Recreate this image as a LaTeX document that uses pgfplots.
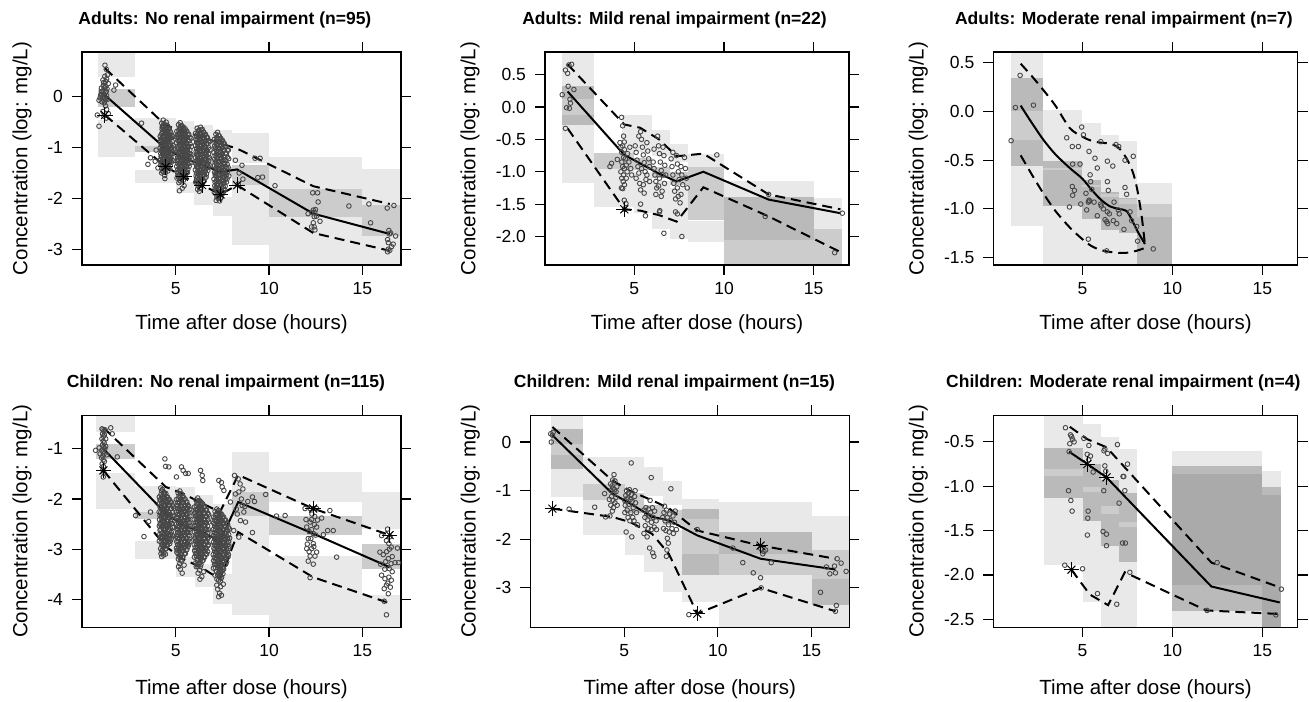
\documentclass[border=0pt]{standalone}
\usepackage{pgfplots}
\pgfplotsset{compat=1.18}
\usepackage{fontspec}
\setmainfont{Liberation Sans}
\newcommand\Lr[4]{\addplot[draw=none, fill=black, fill opacity=0.085, forget plot] coordinates {(#1,#3)(#2,#3)(#2,#4)(#1,#4)};}
\newcommand\Dr[4]{\addplot[draw=none, fill=black, fill opacity=0.2, forget plot] coordinates {(#1,#3)(#2,#3)(#2,#4)(#1,#4)};}
\pgfplotsset{
 vpc/.style={scale only axis, axis on top, tick align=outside, tick pos=both, ticklabel pos=left,
  major tick length=5pt, xtick={5,10,15}, xticklabels={5,10,15}, minor tick num=0,
  axis line style={line width=0.55pt}, every tick/.append style={line width=0.55pt, black},
  tick label style={font=\fontsize{8.75}{10}\selectfont},
  yticklabel style={xshift=-1pt},
  label style={font=\fontsize{10.25}{12}\selectfont},
  every axis title/.style={font=\fontsize{8.75}{10}\selectfont\bfseries, anchor=base, yshift=13.9pt},
  xlabel={Time after dose (hours)}, ylabel={Concentration (log: mg/L)}},
 pts/.style={only marks, mark=o, mark size=1.15pt, black!72, mark options={line width=0.45pt}},
 med/.style={no markers, black, line width=1pt},
 pct/.style={no markers, black, line width=1pt, dash pattern=on 5pt off 3pt},
 astA/.style={only marks, mark=+, mark size=3.9pt, black, mark options={line width=0.5pt}},
 astB/.style={only marks, mark=x, mark size=2.8pt, black, mark options={line width=0.5pt}},
}
\begin{document}
\begin{tikzpicture}
\useasboundingbox (0,0) rectangle (654.5pt,350.5pt);
% ---------------- P1
\begin{axis}[vpc, at={(41pt,218pt)}, anchor=south west, width=159.5pt, height=106.5pt,
 xmin=-0.02, xmax=17.07, ymin=-3.31, ymax=0.88,
 ytick={-3,-2,-1,0}, yticklabels={-3,-2,-1,0},
 title={Adults: No renal impairment (n=95)}, title style={at={(axis description cs:0.448,1)}},
 xlabel style={at={(axis description cs:0.5,0)}, anchor=base, yshift=-32.4pt},
 ylabel style={at={(axis description cs:-0.188,0.5)}, anchor=center}]
\Lr{0.86}{2.80}{0.39}{1.0} \Dr{0.86}{2.80}{-0.21}{0.16} \Lr{0.86}{2.80}{-1.18}{-0.46}
\Lr{2.80}{5.0}{-0.96}{-0.41} \Dr{2.80}{5.0}{-1.08}{-0.96} \Lr{2.80}{5.0}{-1.69}{-1.44}
\Lr{5.0}{6.0}{-0.85}{-0.47} \Dr{5.0}{6.0}{-1.25}{-1.10} \Lr{5.0}{6.0}{-1.90}{-1.67}
\Lr{6.0}{7.0}{-0.95}{-0.55} \Dr{6.0}{7.0}{-1.40}{-1.25} \Lr{6.0}{7.0}{-2.13}{-1.84}
\Lr{7.0}{8.0}{-1.05}{-0.65} \Dr{7.0}{8.0}{-1.55}{-1.38} \Lr{7.0}{8.0}{-2.34}{-1.97}
\Lr{8.0}{10.0}{-1.31}{-0.71} \Dr{8.0}{10.0}{-1.74}{-1.34} \Lr{8.0}{10.0}{-2.92}{-1.74}
\Lr{10.0}{15.0}{-1.82}{-1.19} \Dr{10.0}{15.0}{-2.36}{-1.82} \Lr{10.0}{15.0}{-3.5}{-2.36}
\Lr{15.0}{17.1}{-2.13}{-1.42} \Dr{15.0}{17.1}{-2.74}{-2.13} \Lr{15.0}{17.1}{-3.5}{-2.74}
\addplot[pts] coordinates {
(1.21,0.62)(1.28,0.54)(1.34,0.43)(1.10,0.33)(1.25,0.30)(1.39,0.26)(1.78,0.23)(1.69,0.13)(0.98,0.03)(1.07,0.00)(1.16,-0.07)(0.89,-0.07)(1.03,0.10)(1.28,0.10)(1.25,0.20)(0.80,-0.36)(0.89,-0.58)(1.10,-0.29)(1.39,-0.33)(1.15,0.05)(1.20,-0.02)(1.22,0.08)(1.18,0.18)(1.12,0.22)(1.30,0.02)(1.05,-0.10)(1.10,0.12)(1.25,-0.05)(1.30,0.35)(1.20,0.40)(1.14,0.28)(1.32,0.16)(1.02,0.17)(0.95,-0.02)(1.18,-0.12)(1.24,-0.18)(1.30,-0.25)(1.05,0.05)(1.35,-0.05)(1.15,-0.38)(1.28,-0.42)
(3.17,-0.52)(3.51,-1.33)(3.65,-1.20)(3.90,-1.27)(4.05,-1.40)(4.42,-1.61)(4.28,-0.60)(3.95,-1.05)
(4.17,-0.78)(4.19,-0.88)(4.16,-1.01)(4.20,-1.12)(4.18,-1.24)(4.21,-1.33)
(4.25,-0.52)(4.27,-0.64)(4.24,-0.73)(4.28,-0.86)(4.25,-0.95)(4.27,-1.08)(4.24,-1.17)(4.28,-1.30)(4.26,-1.41)(4.25,-1.50)
(4.33,-0.46)(4.35,-0.59)(4.32,-0.70)(4.36,-0.79)(4.33,-0.92)(4.35,-1.01)(4.32,-1.14)(4.36,-1.23)(4.34,-1.36)(4.33,-1.47)
(4.41,-0.56)(4.43,-0.65)(4.40,-0.78)(4.44,-0.87)(4.41,-1.00)(4.43,-1.09)(4.40,-1.22)(4.44,-1.31)(4.42,-1.44)(4.41,-1.55)
(4.49,-0.50)(4.51,-0.63)(4.48,-0.72)(4.52,-0.85)(4.49,-0.94)(4.51,-1.07)(4.48,-1.16)(4.52,-1.29)(4.50,-1.38)
(4.57,-0.58)(4.59,-0.67)(4.56,-0.80)(4.60,-0.89)(4.57,-1.02)(4.59,-1.11)(4.56,-1.24)(4.60,-1.33)(4.58,-1.46)
(4.65,-0.62)(4.67,-0.75)(4.64,-0.84)(4.68,-0.97)(4.65,-1.06)(4.67,-1.19)(4.64,-1.28)(4.68,-1.41)
(4.74,-0.71)(4.76,-0.81)(4.73,-0.95)(4.77,-1.05)(4.74,-1.19)(4.76,-1.29)
(4.84,-0.79)(4.86,-0.96)(4.83,-1.09)(4.87,-1.26)
(5.06,-0.68)(5.08,-0.80)(5.05,-0.91)(5.09,-1.03)(5.06,-1.14)(5.08,-1.26)(5.05,-1.37)(5.09,-1.49)(5.07,-1.60)
(5.15,-0.55)(5.17,-0.66)(5.14,-0.78)(5.18,-0.89)(5.15,-1.01)(5.17,-1.12)(5.14,-1.24)(5.18,-1.35)(5.16,-1.47)(5.15,-1.58)(5.17,-1.69)
(5.24,-0.51)(5.26,-0.62)(5.23,-0.74)(5.27,-0.85)(5.24,-0.97)(5.26,-1.08)(5.23,-1.20)(5.27,-1.31)(5.25,-1.43)(5.24,-1.54)(5.26,-1.66)
(5.33,-0.57)(5.35,-0.69)(5.32,-0.80)(5.36,-0.92)(5.33,-1.03)(5.35,-1.15)(5.32,-1.26)(5.36,-1.38)(5.34,-1.49)(5.33,-1.61)(5.35,-1.80)
(5.42,-0.60)(5.44,-0.72)(5.41,-0.83)(5.45,-0.95)(5.42,-1.06)(5.44,-1.18)(5.41,-1.29)(5.45,-1.41)(5.43,-1.52)(5.42,-1.64)
(5.51,-0.63)(5.53,-0.75)(5.50,-0.86)(5.54,-0.98)(5.51,-1.09)(5.53,-1.21)(5.50,-1.32)(5.54,-1.44)(5.52,-1.55)
(5.60,-0.68)(5.62,-0.80)(5.59,-0.91)(5.63,-1.03)(5.60,-1.14)(5.62,-1.26)(5.59,-1.37)(5.63,-1.49)
(5.70,-0.74)(5.72,-0.87)(5.69,-0.99)(5.73,-1.12)(5.70,-1.24)(5.72,-1.37)
(5.82,-0.82)(5.84,-0.98)(5.81,-1.13)(5.85,-1.29)(5.20,-1.85)(5.45,-1.75)
(6.06,-0.72)(6.08,-0.84)(6.05,-0.96)(6.09,-1.08)(6.06,-1.20)(6.08,-1.32)(6.05,-1.44)(6.09,-1.56)(6.07,-1.68)
(6.15,-0.62)(6.17,-0.74)(6.14,-0.86)(6.18,-0.98)(6.15,-1.10)(6.17,-1.22)(6.14,-1.34)(6.18,-1.46)(6.16,-1.58)(6.15,-1.70)(6.17,-1.82)
(6.24,-0.66)(6.26,-0.78)(6.23,-0.90)(6.27,-1.02)(6.24,-1.14)(6.26,-1.26)(6.23,-1.38)(6.27,-1.50)(6.25,-1.62)(6.24,-1.74)(6.26,-1.86)
(6.33,-0.60)(6.35,-0.72)(6.32,-0.84)(6.36,-0.96)(6.33,-1.08)(6.35,-1.20)(6.32,-1.32)(6.36,-1.44)(6.34,-1.56)(6.33,-1.68)(6.35,-1.80)
(6.42,-0.64)(6.44,-0.76)(6.41,-0.88)(6.45,-1.00)(6.42,-1.12)(6.44,-1.24)(6.41,-1.36)(6.45,-1.48)(6.43,-1.60)(6.42,-1.72)
(6.51,-0.70)(6.53,-0.82)(6.50,-0.94)(6.54,-1.06)(6.51,-1.18)(6.53,-1.30)(6.50,-1.42)(6.54,-1.54)(6.52,-1.66)
(6.60,-0.74)(6.62,-0.86)(6.59,-0.98)(6.63,-1.10)(6.60,-1.22)(6.62,-1.34)(6.59,-1.46)(6.63,-1.58)
(6.70,-0.80)(6.72,-0.93)(6.69,-1.06)(6.73,-1.19)(6.70,-1.32)(6.72,-1.45)
(6.82,-0.88)(6.84,-1.04)(6.81,-1.20)(6.85,-1.36)
(7.06,-0.84)(7.08,-0.97)(7.05,-1.10)(7.09,-1.23)(7.06,-1.36)(7.08,-1.49)(7.05,-1.62)(7.09,-1.75)(7.07,-1.88)
(7.15,-0.74)(7.17,-0.87)(7.14,-1.00)(7.18,-1.13)(7.15,-1.26)(7.17,-1.39)(7.14,-1.52)(7.18,-1.65)(7.16,-1.78)(7.15,-1.91)(7.17,-2.04)
(7.24,-0.70)(7.26,-0.83)(7.23,-0.96)(7.27,-1.09)(7.24,-1.22)(7.26,-1.35)(7.23,-1.48)(7.27,-1.61)(7.25,-1.74)(7.24,-1.87)(7.26,-2.00)
(7.33,-0.77)(7.35,-0.90)(7.32,-1.03)(7.36,-1.16)(7.33,-1.29)(7.35,-1.42)(7.32,-1.55)(7.36,-1.68)(7.34,-1.81)(7.33,-1.94)(7.35,-2.05)
(7.42,-0.82)(7.44,-0.95)(7.41,-1.08)(7.45,-1.21)(7.42,-1.34)(7.44,-1.47)(7.41,-1.60)(7.45,-1.73)(7.43,-1.86)(7.42,-1.99)
(7.51,-0.86)(7.53,-0.99)(7.50,-1.12)(7.54,-1.25)(7.51,-1.38)(7.53,-1.51)(7.50,-1.64)(7.54,-1.77)(7.52,-1.90)
(7.60,-0.92)(7.62,-1.05)(7.59,-1.18)(7.63,-1.31)(7.60,-1.44)(7.62,-1.57)(7.59,-1.70)(7.63,-1.83)
(7.70,-0.98)(7.72,-1.12)(7.69,-1.26)(7.73,-1.40)(7.70,-1.54)(7.72,-1.68)
(7.82,-1.05)(7.84,-1.22)(7.81,-1.39)(7.85,-1.56)
(8.20,-1.25)(8.55,-1.35)(8.40,-1.50)(8.60,-1.62)(8.35,-1.72)(9.25,-1.21)(9.52,-1.21)(9.40,-1.59)(9.65,-1.58)(10.32,-1.75)
(12.34,-1.89)(12.60,-1.89)(12.63,-2.07)(12.09,-2.30)(12.37,-2.23)(12.49,-2.22)(12.54,-2.35)(12.42,-2.36)(12.73,-2.45)(12.37,-2.48)(12.42,-2.56)(12.28,-2.56)(12.46,-2.62)(14.28,-2.15)(12.30,-2.28)(12.45,-2.28)
(15.35,-2.11)(15.44,-2.48)(16.33,-2.19)(16.69,-2.14)(16.42,-2.63)(16.51,-2.68)(16.78,-2.74)(16.35,-2.81)(16.39,-2.87)(16.65,-2.90)(16.56,-2.95)(16.39,-3.00)(16.35,-3.05)(16.47,-3.02)(16.45,-2.70)};
\addplot[pts] coordinates {
(4.21,-0.83)(4.22,-0.95)(4.21,-1.06)(4.22,-1.18)(4.21,-1.29)
(4.29,-0.58)(4.30,-0.69)(4.29,-0.80)(4.30,-0.91)(4.29,-1.02)(4.30,-1.13)(4.29,-1.24)(4.30,-1.35)(4.29,-1.46)
(4.37,-0.53)(4.38,-0.64)(4.37,-0.75)(4.38,-0.86)(4.37,-0.97)(4.38,-1.08)(4.37,-1.19)(4.38,-1.30)(4.37,-1.41)
(4.45,-0.61)(4.46,-0.72)(4.45,-0.83)(4.46,-0.94)(4.45,-1.05)(4.46,-1.16)(4.45,-1.27)(4.46,-1.38)(4.45,-1.49)
(4.53,-0.56)(4.54,-0.67)(4.53,-0.78)(4.54,-0.89)(4.53,-1.00)(4.54,-1.11)(4.53,-1.22)(4.54,-1.33)
(4.61,-0.63)(4.62,-0.74)(4.61,-0.85)(4.62,-0.96)(4.61,-1.07)(4.62,-1.18)(4.61,-1.29)(4.62,-1.40)
(4.70,-0.68)(4.71,-0.80)(4.70,-0.91)(4.71,-1.02)(4.70,-1.13)(4.71,-1.24)(4.70,-1.35)
(4.80,-0.76)(4.81,-0.88)(4.80,-1.00)(4.81,-1.12)(4.80,-1.24)
(5.11,-0.74)(5.12,-0.86)(5.11,-0.97)(5.12,-1.09)(5.11,-1.20)(5.12,-1.32)(5.11,-1.43)(5.12,-1.55)
(5.20,-0.61)(5.21,-0.72)(5.20,-0.84)(5.21,-0.95)(5.20,-1.07)(5.21,-1.18)(5.20,-1.30)(5.21,-1.41)(5.20,-1.53)(5.21,-1.64)
(5.29,-0.57)(5.30,-0.68)(5.29,-0.80)(5.30,-0.91)(5.29,-1.03)(5.30,-1.14)(5.29,-1.26)(5.30,-1.37)(5.29,-1.49)(5.30,-1.60)
(5.38,-0.63)(5.39,-0.75)(5.38,-0.86)(5.39,-0.98)(5.38,-1.09)(5.39,-1.21)(5.38,-1.32)(5.39,-1.44)(5.38,-1.55)
(5.47,-0.66)(5.48,-0.78)(5.47,-0.89)(5.48,-1.01)(5.47,-1.12)(5.48,-1.24)(5.47,-1.35)(5.48,-1.47)(5.47,-1.58)
(5.56,-0.69)(5.57,-0.81)(5.56,-0.92)(5.57,-1.04)(5.56,-1.15)(5.57,-1.27)(5.56,-1.38)(5.57,-1.50)
(5.65,-0.74)(5.66,-0.86)(5.65,-0.97)(5.66,-1.09)(5.65,-1.20)(5.66,-1.32)(5.65,-1.43)
(5.76,-0.80)(5.77,-0.93)(5.76,-1.05)(5.77,-1.18)(5.76,-1.30)
(6.11,-0.78)(6.12,-0.90)(6.11,-1.02)(6.12,-1.14)(6.11,-1.26)(6.12,-1.38)(6.11,-1.50)(6.12,-1.62)
(6.20,-0.68)(6.21,-0.80)(6.20,-0.92)(6.21,-1.04)(6.20,-1.16)(6.21,-1.28)(6.20,-1.40)(6.21,-1.52)(6.20,-1.64)(6.21,-1.76)
(6.29,-0.72)(6.30,-0.84)(6.29,-0.96)(6.30,-1.08)(6.29,-1.20)(6.30,-1.32)(6.29,-1.44)(6.30,-1.56)(6.29,-1.68)(6.30,-1.80)
(6.38,-0.66)(6.39,-0.78)(6.38,-0.90)(6.39,-1.02)(6.38,-1.14)(6.39,-1.26)(6.38,-1.38)(6.39,-1.50)(6.38,-1.62)(6.39,-1.74)
(6.47,-0.70)(6.48,-0.82)(6.47,-0.94)(6.48,-1.06)(6.47,-1.18)(6.48,-1.30)(6.47,-1.42)(6.48,-1.54)(6.47,-1.66)
(6.56,-0.76)(6.57,-0.88)(6.56,-1.00)(6.57,-1.12)(6.56,-1.24)(6.57,-1.36)(6.56,-1.48)(6.57,-1.60)
(6.65,-0.80)(6.66,-0.92)(6.65,-1.04)(6.66,-1.16)(6.65,-1.28)(6.66,-1.40)(6.65,-1.52)
(6.76,-0.87)(6.77,-1.00)(6.76,-1.13)(6.77,-1.26)(6.76,-1.39)
(7.11,-0.90)(7.12,-1.03)(7.11,-1.16)(7.12,-1.29)(7.11,-1.42)(7.12,-1.55)(7.11,-1.68)(7.12,-1.81)
(7.20,-0.80)(7.21,-0.93)(7.20,-1.06)(7.21,-1.19)(7.20,-1.32)(7.21,-1.45)(7.20,-1.58)(7.21,-1.71)(7.20,-1.84)(7.21,-1.97)
(7.29,-0.76)(7.30,-0.89)(7.29,-1.02)(7.30,-1.15)(7.29,-1.28)(7.30,-1.41)(7.29,-1.54)(7.30,-1.67)(7.29,-1.80)(7.30,-1.93)
(7.38,-0.83)(7.39,-0.96)(7.38,-1.09)(7.39,-1.22)(7.38,-1.35)(7.39,-1.48)(7.38,-1.61)(7.39,-1.74)(7.38,-1.87)(7.39,-2.00)
(7.47,-0.88)(7.48,-1.01)(7.47,-1.14)(7.48,-1.27)(7.47,-1.40)(7.48,-1.53)(7.47,-1.66)(7.48,-1.79)(7.47,-1.92)
(7.56,-0.92)(7.57,-1.05)(7.56,-1.18)(7.57,-1.31)(7.56,-1.44)(7.57,-1.57)(7.56,-1.70)(7.57,-1.83)
(7.65,-0.98)(7.66,-1.11)(7.65,-1.24)(7.66,-1.37)(7.65,-1.50)(7.66,-1.63)(7.65,-1.76)
(7.76,-1.05)(7.77,-1.19)(7.76,-1.33)(7.77,-1.47)(7.76,-1.61)};
\addplot[med] coordinates {(1.21,0.03)(4.46,-1.02)(5.44,-1.21)(6.42,-1.34)(7.40,-1.48)(8.29,-1.43)(12.37,-2.30)(16.47,-2.70)};
\addplot[pct] coordinates {(1.21,0.56)(4.46,-0.56)(5.44,-0.69)(6.42,-0.79)(7.40,-0.92)(8.29,-1.02)(12.37,-1.76)(16.47,-2.11)};
\addplot[pct] coordinates {(1.21,-0.36)(4.46,-1.38)(5.44,-1.575)(6.42,-1.74)(7.40,-1.92)(8.29,-1.74)(12.37,-2.68)(16.47,-3.03)};
\addplot[astA] coordinates {(1.21,-0.36)(4.46,-1.38)(5.44,-1.575)(6.42,-1.74)(7.40,-1.92)(8.29,-1.74)};
\addplot[astB] coordinates {(1.21,-0.36)(4.46,-1.38)(5.44,-1.575)(6.42,-1.74)(7.40,-1.92)(8.29,-1.74)};
\end{axis}
% ---------------- P2
\begin{axis}[vpc, at={(272.5pt,218pt)}, anchor=south west, width=152pt, height=106.5pt,
 xmin=0.02, xmax=16.97, ymin=-2.44, ymax=0.85,
 ytick={-2,-1.5,-1,-0.5,0,0.5}, yticklabels={-2.0,-1.5,-1.0,-0.5,0.0,0.5},
 title={Adults: Mild renal impairment (n=22)}, title style={at={(axis description cs:0.426,1)}},
 xlabel style={at={(axis description cs:0.5,0)}, anchor=base, yshift=-32.4pt},
 ylabel style={at={(axis description cs:-0.2467,0.5)}, anchor=center}]
\Lr{0.98}{2.77}{0.13}{1.0} \Dr{0.98}{2.77}{-0.27}{0.32} \Lr{0.98}{2.77}{-1.18}{-0.12}
\Lr{4.29}{5.0}{-0.71}{-0.12} \Dr{2.77}{5.0}{-0.95}{-0.71} \Lr{2.77}{5.0}{-1.55}{-0.95}
\Lr{5.0}{6.0}{-0.70}{-0.12} \Dr{5.0}{6.0}{-0.98}{-0.78} \Lr{5.0}{6.0}{-1.64}{-1.0}
\Lr{6.0}{7.0}{-0.75}{-0.36} \Dr{6.0}{7.0}{-1.10}{-0.92} \Lr{6.0}{7.0}{-1.89}{-1.15}
\Lr{7.0}{8.0}{-0.85}{-0.57} \Dr{7.0}{8.0}{-1.20}{-1.0} \Lr{7.0}{8.0}{-2.04}{-1.25}
\Lr{8.0}{10.0}{-0.92}{-0.72} \Dr{8.0}{10.0}{-1.75}{-0.92} \Lr{8.0}{10.0}{-2.08}{-1.76}
\Lr{10.0}{15.0}{-2.06}{-1.15} \Dr{10.0}{15.0}{-2.5}{-1.39}
\Lr{15.0}{16.6}{-1.88}{-1.40} \Dr{15.0}{16.6}{-2.5}{-1.88}
\addplot[pts] coordinates {
(0.98,0.19)(1.16,0.57)(1.28,0.52)(1.35,0.65)(1.50,0.66)(1.31,0.32)(1.63,0.27)(1.41,0.12)(1.22,-0.01)(1.44,0.06)(1.16,-0.33)(1.38,-0.02)
(3.64,-0.92)(3.73,-0.87)(4.05,-0.81)(4.29,-0.16)(4.35,-0.29)(4.44,-0.54)(4.35,-1.26)(4.44,-1.44)(4.53,-1.49)(4.48,-1.58)
(4.20,-0.55)(4.25,-0.62)(4.30,-0.70)(4.35,-0.60)(4.40,-0.45)(4.45,-0.66)(4.40,-0.78)(4.30,-0.85)(4.35,-0.92)(4.25,-1.00)(4.40,-1.05)(4.45,-0.95)(4.30,-1.10)(4.38,-1.15)(4.50,-0.80)(4.55,-0.90)(4.60,-1.00)(4.55,-1.10)(4.62,-0.72)(4.70,-0.85)(4.45,-1.20)(4.28,-1.25)(4.75,-0.62)(4.80,-0.95)(4.85,-1.05)
(5.05,-0.60)(5.10,-0.70)(5.15,-0.82)(5.20,-0.92)(5.25,-1.02)(5.10,-1.10)(5.30,-1.18)(5.35,-0.38)(5.40,-0.50)(5.45,-0.62)(5.50,-0.74)(5.55,-0.86)(5.40,-0.95)(5.60,-1.00)(5.65,-1.12)(5.50,-1.20)(5.70,-0.55)(5.75,-0.68)(5.80,-0.80)(5.85,-0.92)(5.70,-1.05)(5.35,-1.28)(5.55,-1.33)(5.25,-0.45)(5.85,-1.15)(5.35,-1.50)(5.62,-1.68)
(6.05,-0.85)(6.10,-0.95)(6.15,-1.05)(6.20,-1.15)(6.25,-1.25)(6.10,-0.65)(6.30,-0.45)(6.35,-0.60)(6.40,-0.72)(6.45,-0.85)(6.50,-0.98)(6.40,-1.10)(6.35,-1.22)(6.55,-1.30)(6.60,-0.62)(6.65,-0.75)(6.70,-0.90)(6.60,-1.05)(6.68,-1.18)(6.50,-1.38)(6.42,-1.60)(6.40,-1.62)(6.65,-1.95)(6.20,-1.35)(6.75,-1.05)
(7.05,-0.80)(7.10,-0.92)(7.15,-1.05)(7.20,-1.18)(7.25,-1.30)(7.30,-1.42)(7.15,-0.70)(7.35,-0.75)(7.40,-0.88)(7.45,-1.00)(7.50,-1.12)(7.40,-1.25)(7.45,-1.38)(7.55,-1.48)(7.60,-0.92)(7.65,-1.05)(7.70,-1.20)(7.80,-0.78)(7.85,-0.95)(7.90,-1.10)(7.30,-1.62)(7.40,-1.65)(7.65,-2.00)(7.95,-1.25)(7.60,-1.35)
(9.60,-0.74)(12.49,-1.35)(12.30,-1.69)(16.60,-1.64)(16.17,-2.25)};
\addplot[med] coordinates {(1.28,0.24)(4.44,-0.74)(5.32,-0.87)(6.38,-1.03)(7.36,-1.15)(8.85,-1.0)(12.49,-1.43)(16.49,-1.64)};
\addplot[pct] coordinates {(1.28,0.66)(4.44,-0.27)(5.32,-0.32)(6.38,-0.50)(7.36,-0.76)(8.85,-0.72)(12.49,-1.35)(16.49,-1.58)};
\addplot[pct] coordinates {(1.28,-0.33)(4.44,-1.58)(5.32,-1.60)(6.38,-1.67)(7.36,-1.77)(8.85,-1.24)(12.49,-1.69)(16.49,-2.24)};
\addplot[astA] coordinates {(4.44,-1.58)};
\addplot[astB] coordinates {(4.44,-1.58)};
\end{axis}
% ---------------- P3
\begin{axis}[vpc, at={(496.65pt,218pt)}, anchor=south west, width=152.2pt, height=106.5pt,
 xmin=0.05, xmax=16.97, ymin=-1.575, ymax=0.61,
 ytick={-1.5,-1,-0.5,0,0.5}, yticklabels={-1.5,-1.0,-0.5,0.0,0.5},
 title={Adults: Moderate renal impairment (n=7)}, title style={at={(axis description cs:0.429,1)}},
 xlabel style={at={(axis description cs:0.5,0)}, anchor=base, yshift=-32.4pt},
 ylabel style={at={(axis description cs:-0.2464,0.5)}, anchor=center}]
\Lr{1.04}{2.83}{0.0}{0.8} \Dr{1.04}{2.83}{-0.56}{0.34} \Lr{1.04}{2.83}{-1.18}{-0.29}
\Lr{2.83}{5.0}{-0.58}{0.02} \Dr{2.83}{5.0}{-0.97}{-0.51} \Lr{2.83}{5.0}{-1.6}{-0.60}
\Lr{5.0}{6.02}{-0.75}{-0.12} \Dr{5.0}{6.02}{-1.10}{-0.70} \Lr{5.0}{6.02}{-1.6}{-0.78}
\Lr{6.02}{7.02}{-0.85}{-0.24} \Dr{6.02}{7.02}{-1.22}{-0.83} \Lr{6.02}{7.02}{-1.6}{-0.88}
\Lr{7.02}{8.02}{-0.90}{-0.30} \Dr{7.02}{8.02}{-1.25}{-0.89} \Lr{7.02}{8.02}{-1.6}{-0.95}
\Lr{8.02}{10.0}{-0.95}{-0.73} \Dr{8.02}{10.0}{-1.6}{-0.95} \Lr{8.02}{10.0}{-1.6}{-1.08}
\addplot[pts] coordinates {
(1.04,-0.30)(1.28,0.04)(1.54,0.37)(2.28,0.065)
(4.13,-0.27)(4.44,-0.36)(4.78,-0.36)(4.46,-0.54)(4.87,-0.54)(4.96,-0.16)(5.06,-0.24)(5.37,-0.41)(5.70,-0.48)(5.83,-0.58)(6.02,-0.31)(6.39,-0.51)(6.69,-0.56)(6.87,-0.34)(7.02,-0.36)(7.37,-0.50)(7.83,-0.46)
(4.44,-0.77)(4.56,-0.81)(4.46,-0.86)(4.28,-0.98)(4.91,-0.95)(5.20,-0.84)(5.43,-0.65)(5.46,-0.72)(5.52,-0.80)(5.37,-0.91)(5.33,-0.93)(5.24,-1.01)(5.65,-0.93)(5.83,-1.07)(6.02,-0.95)(6.17,-1.00)(6.26,-1.11)(6.39,-0.72)(6.44,-0.81)(6.39,-1.03)(6.50,-1.05)(6.76,-0.93)(7.00,-1.01)(6.91,-1.15)(7.05,-1.05)(7.37,-0.78)(7.46,-0.85)(7.31,-1.21)(7.65,-1.03)(7.74,-1.12)(8.02,-1.18)(8.07,-1.33)(6.35,-1.13)(6.41,-1.15)(6.72,-1.12)(5.33,-1.31)(6.35,-1.43)(8.94,-1.41)(5.40,-0.92)(6.05,-0.97)};
\addplot[med, smooth] coordinates {(1.57,0.06)(2.2,-0.12)(2.83,-0.29)(3.5,-0.44)(4.3,-0.58)(5.0,-0.69)(5.5,-0.80)(6.0,-0.90)(6.5,-0.97)(7.0,-1.00)(7.45,-1.02)(7.8,-1.13)(8.1,-1.24)(8.48,-1.36)};
\addplot[pct, smooth] coordinates {(1.57,0.49)(2.2,0.36)(2.83,0.22)(3.5,0.06)(4.3,-0.17)(5.0,-0.26)(5.5,-0.30)(6.0,-0.32)(6.5,-0.33)(7.0,-0.37)(7.45,-0.48)(7.8,-0.62)(8.05,-0.80)(8.3,-1.08)(8.48,-1.37)};
\addplot[pct, smooth] coordinates {(1.57,-0.45)(2.2,-0.65)(2.83,-0.84)(3.5,-1.02)(4.3,-1.19)(5.0,-1.31)(5.5,-1.38)(6.0,-1.42)(6.5,-1.44)(7.0,-1.45)(7.45,-1.45)(8.0,-1.43)(8.48,-1.40)};
\end{axis}
% ---------------- P4
\begin{axis}[vpc, at={(41pt,36.85pt)}, anchor=south west, width=159.5pt, height=106pt,
 xmin=-0.02, xmax=17.07, ymin=-4.56, ymax=-0.33,
 ytick={-4,-3,-2,-1}, yticklabels={-4,-3,-2,-1},
 title={Children: No renal impairment (n=115)}, title style={at={(axis description cs:0.451,1)}},
 xlabel style={at={(axis description cs:0.5,0)}, anchor=base, yshift=-33.4pt},
 ylabel style={at={(axis description cs:-0.188,0.5)}, anchor=center}]
\Lr{0.71}{2.80}{-0.67}{-0.30} \Dr{0.71}{2.80}{-1.21}{-0.90} \Lr{0.71}{2.80}{-2.19}{-1.49}
\Lr{2.80}{5.0}{-2.26}{-1.75} \Dr{2.80}{5.0}{-2.39}{-2.26} \Lr{2.80}{5.0}{-3.20}{-2.83}
\Lr{5.0}{6.02}{-2.3}{-1.76} \Dr{5.0}{6.02}{-2.62}{-2.45} \Lr{5.0}{6.02}{-3.56}{-3.15}
\Lr{6.02}{7.0}{-2.45}{-1.93} \Dr{6.02}{7.0}{-2.78}{-2.60} \Lr{6.02}{7.0}{-3.76}{-3.30}
\Lr{7.0}{8.02}{-2.6}{-2.09} \Dr{7.0}{8.02}{-2.95}{-2.75} \Lr{7.0}{8.02}{-4.09}{-3.50}
\Lr{8.02}{10.0}{-1.86}{-1.06} \Dr{8.02}{10.0}{-2.33}{-1.86} \Lr{8.02}{10.0}{-4.32}{-2.33}
\Lr{10.0}{15.0}{-2.05}{-1.46} \Dr{10.0}{15.0}{-2.71}{-2.34} \Lr{10.0}{15.0}{-4.7}{-3.14}
\Lr{15.0}{17.1}{-2.59}{-1.86} \Dr{15.0}{17.1}{-3.39}{-2.89} \Lr{15.0}{17.1}{-4.7}{-3.92}
\addplot[pts] coordinates {
(0.71,-1.03)(1.52,-0.58)(1.60,-0.70)(1.87,-1.16)(1.05,-0.60)(1.10,-0.62)(1.15,-0.65)(1.08,-0.70)(1.13,-0.75)(1.18,-0.72)(1.05,-0.80)(1.12,-0.85)(1.17,-0.88)(1.08,-0.92)(1.14,-0.96)(1.20,-1.00)(1.05,-1.02)(1.10,-1.06)(1.16,-1.10)(1.09,-1.14)(1.03,-1.18)(1.12,-1.22)(1.18,-1.25)(1.06,-1.30)(1.13,-1.35)(1.10,-1.42)(1.16,-1.48)(1.12,-1.56)(1.25,-0.80)(1.25,-0.95)(0.95,-1.10)(0.90,-0.98)(1.30,-1.12)(1.22,-0.62)
(4.42,-1.20)(4.46,-1.35)(4.63,-1.36)(5.04,-1.56)(5.31,-1.36)(5.40,-1.43)(5.53,-1.49)(5.67,-1.49)(6.33,-1.43)(6.42,-1.53)(6.45,-1.63)(7.31,-1.63)(7.45,-1.67)(7.58,-1.83)(7.49,-1.76)(8.15,-1.53)(3.65,-2.26)(2.85,-2.33)(3.30,-2.75)(3.55,-2.45)
(4.12,-1.96)(4.13,-2.09)(4.11,-2.26)(4.13,-2.41)(4.12,-2.54)(4.14,-2.71)(4.12,-2.84)
(4.20,-1.78)(4.21,-1.91)(4.19,-2.01)(4.21,-2.15)(4.20,-2.27)(4.22,-2.37)(4.19,-2.51)(4.21,-2.61)(4.20,-2.75)(4.22,-2.86)(4.19,-2.99)(4.21,-3.09)
(4.29,-1.81)(4.30,-1.95)(4.28,-2.05)(4.31,-2.19)(4.29,-2.29)(4.30,-2.43)(4.28,-2.53)(4.31,-2.67)(4.29,-2.77)(4.30,-2.91)(4.28,-3.02)
(4.38,-1.87)(4.39,-1.97)(4.37,-2.11)(4.40,-2.21)(4.38,-2.35)(4.39,-2.45)(4.37,-2.59)(4.40,-2.69)(4.38,-2.83)(4.39,-2.93)(4.37,-3.07)
(4.47,-1.89)(4.48,-2.03)(4.46,-2.13)(4.49,-2.27)(4.47,-2.37)(4.48,-2.51)(4.46,-2.61)(4.49,-2.75)(4.47,-2.85)(4.48,-2.99)
(4.56,-1.96)(4.57,-2.06)(4.55,-2.20)(4.58,-2.30)(4.56,-2.44)(4.57,-2.54)(4.55,-2.68)(4.58,-2.78)(4.56,-2.92)
(4.66,-2.01)(4.67,-2.12)(4.65,-2.27)(4.68,-2.38)(4.66,-2.53)(4.67,-2.64)(4.65,-2.79)(4.68,-2.89)
(4.76,-2.06)(4.77,-2.19)(4.75,-2.36)(4.78,-2.49)(4.76,-2.66)(4.77,-2.79)
(4.86,-2.16)(4.87,-2.34)(4.85,-2.56)(4.87,-2.74)(4.25,-3.15)(4.35,-3.12)(4.45,-3.10)
(5.04,-2.01)(5.05,-2.13)(5.03,-2.26)(5.05,-2.37)(5.04,-2.50)(5.06,-2.61)(5.03,-2.74)(5.05,-2.85)(5.04,-2.98)(5.06,-3.06)
(5.13,-1.88)(5.14,-2.00)(5.12,-2.13)(5.14,-2.24)(5.13,-2.37)(5.15,-2.48)(5.12,-2.61)(5.14,-2.72)(5.13,-2.85)(5.15,-2.96)(5.12,-3.09)(5.14,-3.20)
(5.22,-1.84)(5.23,-1.97)(5.21,-2.08)(5.23,-2.21)(5.22,-2.32)(5.24,-2.45)(5.21,-2.56)(5.23,-2.69)(5.22,-2.80)(5.24,-2.93)(5.21,-3.04)(5.23,-3.17)(5.22,-3.29)
(5.31,-1.90)(5.32,-2.02)(5.30,-2.15)(5.32,-2.26)(5.31,-2.39)(5.33,-2.50)(5.30,-2.63)(5.32,-2.74)(5.31,-2.87)(5.33,-2.98)(5.30,-3.11)(5.32,-3.24)
(5.40,-1.95)(5.41,-2.07)(5.39,-2.20)(5.41,-2.31)(5.40,-2.44)(5.42,-2.55)(5.39,-2.68)(5.41,-2.79)(5.40,-2.92)(5.42,-3.03)(5.39,-3.15)
(5.50,-2.00)(5.51,-2.13)(5.49,-2.24)(5.51,-2.37)(5.50,-2.48)(5.52,-2.61)(5.49,-2.72)(5.51,-2.85)(5.50,-2.96)(5.52,-3.09)
(5.60,-2.06)(5.61,-2.18)(5.59,-2.31)(5.61,-2.42)(5.60,-2.55)(5.62,-2.66)(5.59,-2.79)(5.61,-2.90)(5.60,-3.01)
(5.70,-2.15)(5.71,-2.28)(5.69,-2.41)(5.71,-2.54)(5.70,-2.67)(5.72,-2.80)(5.69,-2.91)
(5.25,-3.40)(5.35,-3.48)(5.15,-3.35)(5.45,-3.32)
(6.00,-2.16)(6.01,-2.28)(5.99,-2.41)(6.01,-2.53)(6.00,-2.66)(6.02,-2.78)(5.99,-2.91)(6.01,-3.03)(6.00,-3.16)
(6.09,-2.02)(6.10,-2.14)(6.08,-2.27)(6.10,-2.39)(6.09,-2.52)(6.11,-2.64)(6.08,-2.77)(6.10,-2.89)(6.09,-3.02)(6.11,-3.14)(6.08,-3.27)(6.10,-3.35)
(6.18,-1.98)(6.19,-2.10)(6.17,-2.23)(6.19,-2.35)(6.18,-2.48)(6.20,-2.60)(6.17,-2.73)(6.19,-2.85)(6.18,-2.98)(6.20,-3.10)(6.17,-3.23)(6.19,-3.35)
(6.27,-2.03)(6.28,-2.15)(6.26,-2.28)(6.28,-2.40)(6.27,-2.53)(6.29,-2.65)(6.26,-2.78)(6.28,-2.90)(6.27,-3.03)(6.29,-3.15)(6.26,-3.28)(6.28,-3.42)
(6.36,-2.06)(6.37,-2.18)(6.35,-2.31)(6.37,-2.43)(6.36,-2.56)(6.38,-2.68)(6.35,-2.81)(6.37,-2.93)(6.36,-3.06)(6.38,-3.18)(6.35,-3.31)
(6.45,-2.10)(6.46,-2.22)(6.44,-2.35)(6.46,-2.47)(6.45,-2.60)(6.47,-2.72)(6.44,-2.85)(6.46,-2.97)(6.45,-3.10)(6.47,-3.22)
(6.55,-2.16)(6.56,-2.28)(6.54,-2.41)(6.56,-2.53)(6.55,-2.66)(6.57,-2.78)(6.54,-2.91)(6.56,-3.03)(6.55,-3.16)
(6.65,-2.22)(6.66,-2.35)(6.64,-2.48)(6.66,-2.61)(6.65,-2.74)(6.67,-2.87)(6.64,-3.00)(6.66,-3.10)
(6.76,-2.31)(6.77,-2.46)(6.75,-2.61)(6.77,-2.76)(6.76,-2.91)
(6.40,-3.55)(6.20,-3.48)(6.50,-3.45)(6.30,-3.60)
(7.02,-2.36)(7.03,-2.48)(7.01,-2.61)(7.03,-2.73)(7.02,-2.86)(7.04,-2.98)(7.01,-3.11)(7.03,-3.23)(7.02,-3.38)
(7.11,-2.25)(7.12,-2.37)(7.10,-2.50)(7.12,-2.62)(7.11,-2.75)(7.13,-2.87)(7.10,-3.00)(7.12,-3.12)(7.11,-3.25)(7.13,-3.37)(7.10,-3.52)
(7.20,-2.20)(7.21,-2.32)(7.19,-2.45)(7.21,-2.57)(7.20,-2.70)(7.22,-2.82)(7.19,-2.95)(7.21,-3.07)(7.20,-3.20)(7.22,-3.32)(7.19,-3.45)(7.21,-3.60)
(7.29,-2.23)(7.30,-2.35)(7.28,-2.48)(7.30,-2.60)(7.29,-2.73)(7.31,-2.85)(7.28,-2.98)(7.30,-3.10)(7.29,-3.23)(7.31,-3.35)(7.28,-3.48)(7.30,-3.62)
(7.38,-2.27)(7.39,-2.39)(7.37,-2.52)(7.39,-2.64)(7.38,-2.77)(7.40,-2.89)(7.37,-3.02)(7.39,-3.14)(7.38,-3.27)(7.40,-3.39)(7.37,-3.52)(7.39,-3.64)
(7.47,-2.31)(7.48,-2.43)(7.46,-2.56)(7.48,-2.68)(7.47,-2.81)(7.49,-2.93)(7.46,-3.06)(7.48,-3.18)(7.47,-3.31)(7.49,-3.43)(7.46,-3.56)
(7.57,-2.36)(7.58,-2.48)(7.56,-2.61)(7.58,-2.73)(7.57,-2.86)(7.59,-2.98)(7.56,-3.11)(7.58,-3.23)(7.57,-3.40)
(7.67,-2.42)(7.68,-2.55)(7.66,-2.68)(7.68,-2.81)(7.67,-2.94)(7.69,-3.07)(7.66,-3.20)(7.68,-3.30)
(7.78,-2.50)(7.79,-2.64)(7.77,-2.78)(7.79,-2.92)(7.78,-3.06)(7.80,-3.16)
(7.88,-2.60)(7.89,-2.78)(7.87,-2.95)
(7.25,-3.80)(7.35,-3.88)(7.30,-3.95)(7.45,-3.92)(7.40,-3.75)(7.55,-3.70)(7.20,-3.72)
(7.93,-2.06)(8.20,-1.90)(8.38,-1.86)(8.52,-2.00)(8.56,-2.13)(8.65,-2.26)(8.47,-2.43)(8.74,-2.46)(8.11,-2.63)(8.38,-2.76)(8.86,-2.05)(9.11,-1.96)(9.22,-2.05)(9.82,-1.91)(9.11,-2.67)(8.30,-2.30)(8.45,-1.70)(8.60,-1.80)(8.25,-2.20)(8.70,-2.15)(8.35,-1.60)
(11.93,-2.19)(12.20,-2.19)(12.37,-2.19)(12.55,-2.19)(11.98,-2.41)(12.20,-2.46)(12.28,-2.41)(12.43,-2.51)(12.02,-2.56)(12.28,-2.61)(12.55,-2.56)(12.10,-2.79)(12.24,-2.79)(12.37,-2.89)(12.02,-2.99)(12.28,-2.99)(12.55,-3.06)(12.20,-3.14)(12.46,-3.14)(12.10,-3.24)(12.37,-3.30)(12.20,-3.57)(12.82,-2.38)(12.91,-2.71)(13.14,-2.63)(13.44,-2.63)(13.26,-2.23)(13.62,-3.16)(10.40,-2.34)(10.86,-2.33)(12.37,-2.69)(12.50,-2.72)(12.15,-2.65)(12.45,-2.35)(12.30,-2.30)(12.60,-2.42)(12.05,-2.90)(12.40,-2.95)(12.15,-3.05)
(16.03,-2.73)(16.29,-2.83)(16.42,-2.89)(16.55,-2.96)(16.88,-2.98)(15.94,-3.06)(16.12,-3.11)(16.39,-3.19)(16.54,-3.29)(16.75,-3.27)(16.93,-3.27)(16.03,-3.52)(16.21,-3.59)(16.42,-3.56)(16.55,-3.62)(16.29,-3.72)(16.50,-3.76)(16.17,-3.79)(16.39,-3.89)(16.17,-4.04)(16.29,-4.31)(16.45,-3.00)(16.30,-3.05)(16.20,-3.40)(16.44,-3.39)(16.60,-3.45)(16.35,-2.60)(16.48,-2.75)(16.25,-3.25)(16.60,-3.15)(16.36,-3.68)(15.98,-3.30)};
\addplot[pts] coordinates {
(4.16,-2.02)(4.17,-2.17)(4.16,-2.33)(4.17,-2.48)(4.16,-2.62)(4.17,-2.77)
(4.25,-1.84)(4.26,-1.96)(4.25,-2.08)(4.26,-2.21)(4.25,-2.32)(4.26,-2.44)(4.25,-2.56)(4.26,-2.68)(4.25,-2.80)(4.26,-2.92)(4.25,-3.04)
(4.34,-1.88)(4.35,-2.00)(4.34,-2.12)(4.35,-2.24)(4.34,-2.36)(4.35,-2.48)(4.34,-2.60)(4.35,-2.72)(4.34,-2.84)(4.35,-2.96)
(4.43,-1.92)(4.44,-2.04)(4.43,-2.16)(4.44,-2.28)(4.43,-2.40)(4.44,-2.52)(4.43,-2.64)(4.44,-2.76)(4.43,-2.88)(4.44,-3.00)
(4.52,-1.96)(4.53,-2.08)(4.52,-2.20)(4.53,-2.32)(4.52,-2.44)(4.53,-2.56)(4.52,-2.68)(4.53,-2.80)(4.52,-2.92)
(4.61,-2.01)(4.62,-2.13)(4.61,-2.25)(4.62,-2.37)(4.61,-2.49)(4.62,-2.61)(4.61,-2.73)(4.62,-2.85)
(4.71,-2.06)(4.72,-2.19)(4.71,-2.32)(4.72,-2.45)(4.71,-2.58)(4.72,-2.71)(4.71,-2.84)
(4.81,-2.12)(4.82,-2.27)(4.81,-2.42)(4.82,-2.57)(4.81,-2.72)
(5.09,-2.07)(5.10,-2.19)(5.09,-2.31)(5.10,-2.43)(5.09,-2.55)(5.10,-2.67)(5.09,-2.79)(5.10,-2.91)(5.09,-3.02)
(5.18,-1.94)(5.19,-2.06)(5.18,-2.18)(5.19,-2.30)(5.18,-2.42)(5.19,-2.54)(5.18,-2.66)(5.19,-2.78)(5.18,-2.90)(5.19,-3.02)(5.18,-3.14)
(5.27,-1.90)(5.28,-2.02)(5.27,-2.14)(5.28,-2.26)(5.27,-2.38)(5.28,-2.50)(5.27,-2.62)(5.28,-2.74)(5.27,-2.86)(5.28,-2.98)(5.27,-3.10)(5.28,-3.22)
(5.36,-1.96)(5.37,-2.08)(5.36,-2.20)(5.37,-2.32)(5.36,-2.44)(5.37,-2.56)(5.36,-2.68)(5.37,-2.80)(5.36,-2.92)(5.37,-3.04)(5.36,-3.17)
(5.45,-2.01)(5.46,-2.13)(5.45,-2.25)(5.46,-2.37)(5.45,-2.49)(5.46,-2.61)(5.45,-2.73)(5.46,-2.85)(5.45,-2.97)(5.46,-3.09)
(5.55,-2.06)(5.56,-2.18)(5.55,-2.30)(5.56,-2.42)(5.55,-2.54)(5.56,-2.66)(5.55,-2.78)(5.56,-2.90)(5.55,-3.02)
(5.65,-2.12)(5.66,-2.24)(5.65,-2.36)(5.66,-2.48)(5.65,-2.60)(5.66,-2.72)(5.65,-2.84)(5.66,-2.95)
(5.75,-2.21)(5.76,-2.34)(5.75,-2.47)(5.76,-2.60)(5.75,-2.73)(5.76,-2.85)
(6.05,-2.22)(6.06,-2.34)(6.05,-2.47)(6.06,-2.59)(6.05,-2.72)(6.06,-2.84)(6.05,-2.97)(6.06,-3.09)
(6.14,-2.08)(6.15,-2.20)(6.14,-2.33)(6.15,-2.45)(6.14,-2.58)(6.15,-2.70)(6.14,-2.83)(6.15,-2.95)(6.14,-3.08)(6.15,-3.20)(6.14,-3.31)
(6.23,-2.04)(6.24,-2.16)(6.23,-2.29)(6.24,-2.41)(6.23,-2.54)(6.24,-2.66)(6.23,-2.79)(6.24,-2.91)(6.23,-3.04)(6.24,-3.16)(6.23,-3.29)
(6.32,-2.09)(6.33,-2.21)(6.32,-2.34)(6.33,-2.46)(6.32,-2.59)(6.33,-2.71)(6.32,-2.84)(6.33,-2.96)(6.32,-3.09)(6.33,-3.21)(6.32,-3.35)
(6.41,-2.12)(6.42,-2.24)(6.41,-2.37)(6.42,-2.49)(6.41,-2.62)(6.42,-2.74)(6.41,-2.87)(6.42,-2.99)(6.41,-3.12)(6.42,-3.24)
(6.50,-2.16)(6.51,-2.28)(6.50,-2.41)(6.51,-2.53)(6.50,-2.66)(6.51,-2.78)(6.50,-2.91)(6.51,-3.03)(6.50,-3.16)
(6.60,-2.22)(6.61,-2.34)(6.60,-2.47)(6.61,-2.59)(6.60,-2.72)(6.61,-2.84)(6.60,-2.97)(6.61,-3.09)
(6.71,-2.28)(6.72,-2.41)(6.71,-2.54)(6.72,-2.67)(6.71,-2.80)(6.72,-2.93)(6.71,-3.05)
(7.07,-2.42)(7.08,-2.54)(7.07,-2.67)(7.08,-2.79)(7.07,-2.92)(7.08,-3.04)(7.07,-3.17)(7.08,-3.30)
(7.16,-2.31)(7.17,-2.43)(7.16,-2.56)(7.17,-2.68)(7.16,-2.81)(7.17,-2.93)(7.16,-3.06)(7.17,-3.18)(7.16,-3.31)(7.17,-3.44)
(7.25,-2.26)(7.26,-2.38)(7.25,-2.51)(7.26,-2.63)(7.25,-2.76)(7.26,-2.88)(7.25,-3.01)(7.26,-3.13)(7.25,-3.26)(7.26,-3.38)(7.25,-3.52)
(7.34,-2.29)(7.35,-2.41)(7.34,-2.54)(7.35,-2.66)(7.34,-2.79)(7.35,-2.91)(7.34,-3.04)(7.35,-3.16)(7.34,-3.29)(7.35,-3.41)(7.34,-3.55)
(7.43,-2.33)(7.44,-2.45)(7.43,-2.58)(7.44,-2.70)(7.43,-2.83)(7.44,-2.95)(7.43,-3.08)(7.44,-3.20)(7.43,-3.33)(7.44,-3.45)(7.43,-3.58)
(7.52,-2.37)(7.53,-2.49)(7.52,-2.62)(7.53,-2.74)(7.52,-2.87)(7.53,-2.99)(7.52,-3.12)(7.53,-3.24)(7.52,-3.37)(7.53,-3.49)
(7.62,-2.42)(7.63,-2.54)(7.62,-2.67)(7.63,-2.79)(7.62,-2.92)(7.63,-3.04)(7.62,-3.17)(7.63,-3.31)
(7.73,-2.48)(7.74,-2.61)(7.73,-2.74)(7.74,-2.87)(7.73,-3.00)(7.74,-3.13)(7.73,-3.25)
(7.83,-2.57)(7.84,-2.71)(7.83,-2.85)(7.84,-2.99)(7.83,-3.11)};
\addplot[med] coordinates {(1.13,-1.0)(4.47,-2.29)(5.37,-2.52)(6.43,-2.66)(7.37,-2.84)(8.35,-2.06)(12.36,-2.69)(16.46,-3.36)};
\addplot[pct] coordinates {(1.13,-0.58)(4.47,-1.76)(5.37,-1.89)(6.43,-2.09)(7.37,-2.26)(8.35,-1.52)(12.36,-2.19)(16.46,-2.72)};
\addplot[pct] coordinates {(1.13,-1.43)(4.47,-2.95)(5.37,-3.19)(6.43,-3.38)(7.37,-3.60)(8.35,-2.66)(12.36,-3.56)(16.46,-4.08)};
\addplot[astA] coordinates {(1.13,-1.43)(12.36,-2.19)(16.46,-2.72)};
\addplot[astB] coordinates {(1.13,-1.43)(12.36,-2.19)(16.46,-2.72)};
\end{axis}
% ---------------- P5
\begin{axis}[vpc, at={(265.15pt,36.85pt)}, anchor=south west, width=159.5pt, height=106pt,
 xmin=-0.02, xmax=17.02, ymin=-3.81, ymax=0.55,
 ytick={-3,-2,-1,0}, yticklabels={-3,-2,-1,0},
 title={Children: Mild renal impairment (n=15)}, title style={at={(axis description cs:0.452,1)}},
 xlabel style={at={(axis description cs:0.5,0)}, anchor=base, yshift=-33.4pt},
 ylabel style={at={(axis description cs:-0.188,0.5)}, anchor=center}]
\Lr{1.07}{2.79}{-0.03}{0.6} \Dr{1.07}{2.79}{-0.55}{0.27} \Lr{1.07}{2.79}{-1.13}{-0.26}
\Lr{2.79}{5.04}{-0.86}{-0.31} \Dr{2.79}{5.04}{-1.20}{-0.86} \Lr{2.79}{5.04}{-1.92}{-1.20}
\Lr{5.04}{6.05}{-1.0}{-0.31} \Dr{5.04}{6.05}{-1.45}{-1.05} \Lr{5.04}{6.05}{-2.33}{-1.40}
\Lr{6.05}{7.06}{-1.1}{-0.51} \Dr{6.05}{7.06}{-1.6}{-1.3} \Lr{6.05}{7.06}{-2.67}{-1.6}
\Lr{7.06}{8.06}{-1.3}{-0.81} \Dr{7.06}{8.06}{-1.7}{-1.4} \Lr{7.06}{8.06}{-3.09}{-1.8}
\Lr{8.06}{10.05}{-1.58}{-1.18} \Dr{8.06}{10.05}{-2.74}{-1.37} \Lr{8.06}{10.05}{-3.29}{-2.3}
\Lr{10.05}{15.04}{-2.3}{-1.23} \Dr{10.05}{15.04}{-2.74}{-1.85} \Lr{10.05}{15.04}{-3.9}{-2.74}
\Lr{15.04}{17.0}{-2.23}{-1.52} \Dr{15.04}{17.0}{-3.36}{-2.23} \Lr{15.04}{17.0}{-3.9}{-2.81}
\addplot[pts] coordinates {
(1.07,0.17)(1.10,0.00)(1.16,0.14)(1.20,0.20)
(2.05,-1.38)(3.42,-1.34)(3.95,-1.06)(4.00,-1.54)(4.23,-1.52)(5.37,-0.43)(4.45,-0.67)(6.44,-0.73)(7.49,-0.96)
(4.27,-0.86)(4.35,-0.90)(4.40,-0.95)(4.30,-1.00)(4.45,-1.05)(4.32,-1.12)(4.40,-1.20)(4.50,-1.25)(4.28,-1.30)(4.42,-1.35)(4.55,-1.14)(4.60,-0.92)(4.50,-0.80)(4.38,-0.78)(4.62,-1.30)(4.20,-1.18)(4.48,-0.98)(4.36,-1.42)(4.56,-1.02)
(5.02,-1.20)(5.08,-1.10)(5.12,-1.00)(5.18,-1.15)(5.22,-1.05)(5.28,-0.98)(5.05,-1.30)(5.15,-1.40)(5.25,-1.28)(5.32,-1.18)(5.38,-1.08)(5.42,-1.22)(5.48,-1.35)(5.35,-1.45)(5.20,-1.55)(5.45,-1.55)(5.55,-1.12)(5.60,-1.25)(5.65,-1.45)(5.52,-1.62)(5.30,-1.62)(5.10,-1.85)(5.40,-1.95)(5.70,-1.70)(5.58,-1.00)(5.03,-1.45)
(6.05,-1.40)(6.10,-1.55)(6.15,-1.35)(6.20,-1.48)(6.25,-1.60)(6.30,-1.38)(6.35,-1.52)(6.40,-1.45)(6.45,-1.65)(6.50,-1.35)(6.55,-1.55)(6.60,-1.75)(6.12,-1.72)(6.28,-1.78)(6.45,-1.80)(6.62,-1.42)(6.70,-1.62)(6.38,-1.20)(6.22,-1.95)(6.35,-2.18)(6.58,-2.35)(6.52,-2.28)(6.72,-1.80)(6.05,-1.88)
(7.05,-1.55)(7.12,-1.45)(7.18,-1.62)(7.25,-1.40)(7.30,-1.55)(7.36,-1.70)(7.42,-1.48)(7.48,-1.62)(7.55,-1.78)(7.60,-1.52)(7.68,-1.65)(7.72,-1.42)(7.78,-1.80)(7.10,-1.78)(7.22,-1.82)(7.40,-1.85)(7.30,-1.98)(7.35,-2.08)(7.28,-2.22)(7.25,-2.35)(7.15,-1.32)(7.62,-1.88)
(8.90,-1.80)(8.45,-3.55)(10.80,-2.18)(11.33,-2.48)(11.89,-2.69)(12.30,-2.20)(12.46,-2.25)(12.55,-2.22)(12.28,-2.79)(12.31,-3.00)(12.85,-2.48)(12.40,-2.30)(15.48,-3.09)(15.80,-2.57)(15.98,-2.71)(16.23,-2.55)(16.28,-2.69)(16.37,-2.40)(16.58,-2.49)(16.85,-2.66)(16.33,-3.36)(16.28,-3.48)};
\addplot[med] coordinates {(1.16,0.14)(4.36,-1.06)(5.34,-1.27)(6.49,-1.54)(7.38,-1.61)(8.9,-1.92)(12.28,-2.40)(16.28,-2.62)};
\addplot[pct] coordinates {(1.16,0.31)(4.36,-0.79)(5.34,-1.01)(6.49,-1.20)(7.38,-1.36)(8.9,-1.82)(12.28,-2.13)(16.28,-2.40)};
\addplot[pct] coordinates {(1.16,-1.37)(4.36,-1.54)(5.34,-1.65)(6.49,-1.89)(7.38,-2.30)(8.9,-3.53)(12.28,-3.0)(16.28,-3.48)};
\addplot[astA] coordinates {(1.16,-1.37)(8.9,-3.53)(12.28,-2.13)};
\addplot[astB] coordinates {(1.16,-1.37)(8.9,-3.53)(12.28,-2.13)};
\end{axis}
% ---------------- P6
\begin{axis}[vpc, at={(496.65pt,36.85pt)}, anchor=south west, width=152.2pt, height=106pt,
 xmin=0.05, xmax=16.97, ymin=-2.59, ymax=-0.20,
 ytick={-2.5,-2,-1.5,-1,-0.5}, yticklabels={-2.5,-2.0,-1.5,-1.0,-0.5},
 title={Children: Moderate renal impairment (n=4)}, title style={at={(axis description cs:0.427,1)}},
 xlabel style={at={(axis description cs:0.5,0)}, anchor=base, yshift=-33.4pt},
 ylabel style={at={(axis description cs:-0.2464,0.5)}, anchor=center}]
\Lr{2.86}{5.04}{-0.80}{-0.21} \Dr{2.86}{5.04}{-1.13}{-0.57} \Lr{2.86}{5.04}{-1.89}{-0.88}
\Lr{5.04}{6.02}{-1.01}{-0.30} \Dr{5.04}{6.02}{-1.39}{-0.75} \Lr{5.04}{6.02}{-2.31}{-1.07}
\Lr{6.02}{7.04}{-1.22}{-0.45} \Dr{6.02}{7.04}{-1.67}{-0.93} \Lr{6.02}{7.04}{-2.7}{-1.31}
\Lr{7.04}{8.02}{-1.40}{-0.58} \Dr{7.04}{8.02}{-1.85}{-1.08} \Lr{7.04}{8.02}{-2.7}{-1.46}
\Lr{10.0}{14.99}{-2.7}{-0.60} \Dr{10.0}{14.99}{-2.41}{-0.77} \Lr{10.0}{14.99}{-2.11}{-0.86}
\Lr{14.99}{16.06}{-2.7}{-0.83} \Dr{14.99}{16.06}{-2.7}{-1.01} \Lr{14.99}{16.06}{-2.7}{-1.10}
\addplot[pts] coordinates {
(4.06,-0.34)(4.34,-0.42)(4.40,-0.44)(4.54,-0.50)(4.30,-0.52)(5.08,-0.46)(5.36,-0.54)(4.26,-0.61)(5.27,-0.64)(5.45,-0.66)(5.60,-0.84)(6.25,-0.58)(6.40,-0.63)(6.95,-0.53)(7.51,-0.75)(6.25,-0.77)(7.26,-0.89)(7.36,-1.05)(7.04,-1.19)(6.19,-1.05)(4.23,-1.05)(4.36,-1.16)(4.43,-1.28)(5.32,-1.28)(5.30,-1.36)(5.28,-1.55)(6.15,-1.51)(6.34,-1.54)(6.34,-1.67)(7.23,-1.64)(7.39,-1.64)(4.02,-1.89)(5.01,-1.93)(5.84,-2.21)(6.91,-2.33)(7.64,-1.97)(12.49,-1.86)(11.93,-2.40)(16.06,-2.16)(15.75,-2.45)(5.35,-0.70)(6.30,-0.83)(7.30,-0.89)(4.45,-0.47)(6.20,-0.60)};
\addplot[med] coordinates {(4.26,-0.61)(5.28,-0.75)(6.34,-0.90)(12.17,-2.13)(15.97,-2.31)};
\addplot[pct] coordinates {(4.30,-0.33)(5.28,-0.47)(6.34,-0.56)(12.17,-1.86)(15.97,-2.14)};
\addplot[pct] coordinates {(4.39,-1.94)(5.41,-2.22)(6.43,-2.34)(7.36,-1.97)(11.89,-2.40)(15.97,-2.44)};
\addplot[astA] coordinates {(5.28,-0.75)(6.34,-0.90)(4.39,-1.94)};
\addplot[astB] coordinates {(5.28,-0.75)(6.34,-0.90)(4.39,-1.94)};
\end{axis}
\end{tikzpicture}
\end{document}
